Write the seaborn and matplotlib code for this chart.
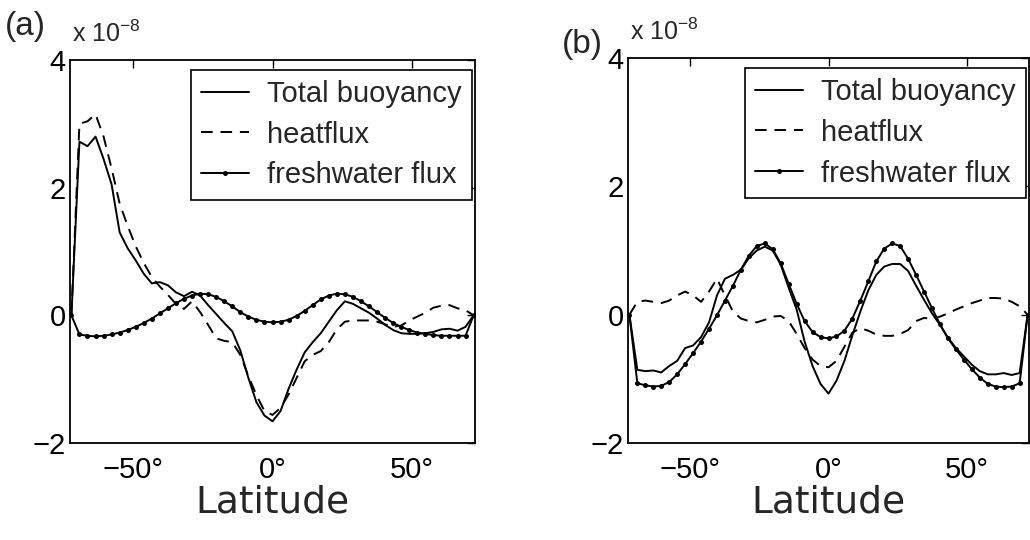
import numpy as np
import pandas as pd
import matplotlib
matplotlib.use("Agg")
import matplotlib.pyplot as plt
import seaborn as sns

# ---------------- data (units of 1e-8) ----------------
lat = np.linspace(-72, 72, 51)

tot_a = [0.00, 2.72, 2.65, 2.80, 2.45, 2.05, 1.30, 1.05, 0.86, 0.65,
         0.50, 0.52, 0.47, 0.36, 0.30, 0.37, 0.31, 0.16, 0.02, -0.12,
         -0.25, -0.55, -0.98, -1.36, -1.57, -1.66, -1.50, -1.15, -0.85, -0.58,
         -0.42, -0.28, -0.10, 0.08, 0.22, 0.18, 0.11, 0.04, -0.05, -0.15,
         -0.23, -0.28, -0.29, -0.29, -0.28, -0.26, -0.22, -0.21, -0.24, -0.18,
         0.00]
heat_a = [0.00, 3.00, 3.04, 3.15, 2.80, 2.30, 1.75, 1.40, 1.08, 0.82,
          0.60, 0.45, 0.32, 0.18, 0.10, 0.22, 0.05, -0.15, -0.36, -0.40,
          -0.42, -0.62, -0.95, -1.25, -1.50, -1.56, -1.45, -1.24, -0.98, -0.72,
          -0.62, -0.56, -0.42, -0.22, -0.10, -0.08, -0.08, -0.08, -0.10, -0.14,
          -0.18, -0.16, -0.08, -0.02, 0.04, 0.12, 0.15, 0.16, 0.11, 0.08,
          0.00]
fw_a = [0.00, -0.30, -0.32, -0.33, -0.32, -0.30, -0.27, -0.23, -0.18, -0.12,
        -0.05, 0.03, 0.11, 0.19, 0.26, 0.31, 0.34, 0.33, 0.29, 0.22,
        0.14, 0.05, -0.02, -0.07, -0.10, -0.11, -0.10, -0.07, -0.01, 0.07,
        0.16, 0.25, 0.31, 0.34, 0.33, 0.29, 0.22, 0.14, 0.05, -0.04,
        -0.12, -0.18, -0.23, -0.27, -0.29, -0.31, -0.32, -0.32, -0.32, -0.32,
        0.00]

tot_b = [0.00, -0.86, -0.88, -0.87, -0.90, -0.80, -0.72, -0.52, -0.48, -0.35,
         -0.12, 0.30, 0.56, 0.62, 0.70, 0.88, 1.00, 1.06, 1.00, 0.78,
         0.42, 0.08, -0.42, -0.80, -1.08, -1.23, -1.03, -0.72, -0.32, 0.05,
         0.38, 0.62, 0.75, 0.79, 0.79, 0.68, 0.45, 0.23, 0.02, -0.16,
         -0.36, -0.52, -0.65, -0.78, -0.88, -0.93, -0.93, -0.91, -0.94, -0.91,
         0.00]
heat_b = [0.00, 0.20, 0.22, 0.20, 0.18, 0.22, 0.30, 0.36, 0.30, 0.20,
          0.36, 0.56, 0.30, 0.05, -0.06, -0.10, -0.12, -0.08, -0.03, -0.02,
          -0.10, -0.30, -0.52, -0.70, -0.80, -0.82, -0.72, -0.50, -0.28, -0.21,
          -0.25, -0.31, -0.33, -0.33, -0.30, -0.24, -0.10, -0.05, -0.07, -0.03,
          0.02, 0.08, 0.13, 0.18, 0.22, 0.26, 0.26, 0.25, 0.20, 0.13,
          0.00]
fw_b = [0.00, -1.07, -1.10, -1.12, -1.11, -1.05, -0.93, -0.77, -0.60, -0.42,
        -0.22, -0.01, 0.22, 0.45, 0.70, 0.92, 1.07, 1.11, 1.02, 0.80,
        0.48, 0.17, -0.10, -0.27, -0.35, -0.37, -0.34, -0.25, -0.06, 0.22,
        0.52, 0.83, 1.03, 1.11, 1.07, 0.87, 0.62, 0.36, 0.10, -0.15,
        -0.37, -0.54, -0.70, -0.85, -0.98, -1.08, -1.12, -1.13, -1.12, -1.07,
        0.00]

series_names = ["Total buoyancy", "heatflux", "freshwater flux"]
xticks = [-50, 0, 50]
xticklabels = ["\u221250\u00b0", "0\u00b0", "50\u00b0"]
yticks = [-2, 0, 2, 4]
yticklabels = ["\u22122", "0", "2", "4"]
panel_labels = ["(a)", "(b)"]
scale_label = "x 10$^{-8}$"
xlabel = "Latitude"

# ---------------- style ----------------
sns.set_style("white")
FONT = ["Liberation Sans", "DejaVu Sans"]
plt.rcParams["font.family"] = FONT
plt.rcParams["mathtext.fontset"] = "custom"
plt.rcParams["mathtext.rm"] = "Liberation Sans"
plt.rcParams["mathtext.it"] = "Liberation Sans:italic"
plt.rcParams["mathtext.bf"] = "Liberation Sans:bold"
plt.rcParams["axes.unicode_minus"] = True

fig = plt.figure(figsize=(10.3, 5.4), dpi=100)
W, H = 1030.0, 540.0
ax_a = fig.add_axes([70 / W, 97 / H, 405 / W, 383 / H])
ax_b = fig.add_axes([628 / W, 97 / H, 401 / W, 385 / H])

panels = [
    (ax_a, tot_a, heat_a, fw_a),
    (ax_b, tot_b, heat_b, fw_b),
]

for ax, tot, heat, fw in panels:
    df = pd.DataFrame({"lat": lat, "tot": tot, "heat": heat, "fw": fw})
    sns.lineplot(data=df, x="lat", y="tot", ax=ax, color="black", lw=1.4,
                 label=series_names[0])
    sns.lineplot(data=df, x="lat", y="heat", ax=ax, color="black", lw=1.4,
                 dashes=(6, 4), label=series_names[1])
    sns.lineplot(data=df, x="lat", y="fw", ax=ax, color="black", lw=1.4,
                 marker="o", markersize=3.6, markeredgewidth=0,
                 label=series_names[2])
    ax.set_xlim(-72.5, 72.5)
    ax.set_ylim(-2, 4)
    ax.set_xticks(xticks)
    ax.set_xticklabels(xticklabels)
    ax.set_yticks(yticks)
    ax.set_yticklabels(yticklabels)
    ax.tick_params(axis="both", direction="in", top=True, right=True,
                   length=6, width=1.0, labelsize=21, colors="black")
    ax.tick_params(axis="x", pad=9)
    ax.tick_params(axis="y", pad=3)
    ax.set_xlabel(xlabel, fontsize=27, family=["DejaVu Sans"], labelpad=1)
    ax.set_ylabel("")
    for sp in ax.spines.values():
        sp.set_visible(True)
        sp.set_color("black")
        sp.set_linewidth(1.3)
    leg = ax.legend(loc="upper right", bbox_to_anchor=(0.993, 0.975),
                    borderaxespad=0, fontsize=21, frameon=True, fancybox=False,
                    framealpha=1, edgecolor="black", handlelength=1.65,
                    handletextpad=0.63, labelspacing=0.44, borderpad=0.35)
    leg.get_frame().set_linewidth(1.2)
    ax.text(0.005, 1.035, scale_label, transform=ax.transAxes, ha="left",
            va="bottom", fontsize=18)

fig.text(5 / W, 1 - 27 / H, panel_labels[0], ha="left", va="center",
         fontsize=24)
fig.text(562 / W, 1 - 44 / H, panel_labels[1], ha="left", va="center",
         fontsize=24)

fig.savefig("out.png", dpi=100, facecolor="white")
